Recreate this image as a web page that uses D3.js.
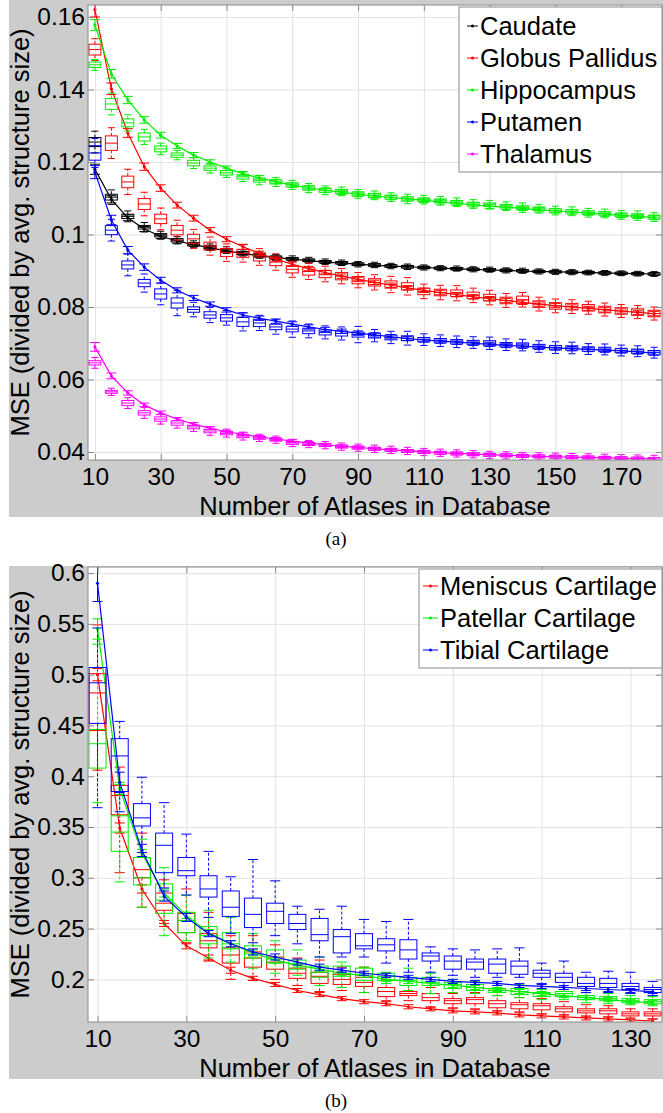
<!DOCTYPE html>
<html>
<head>
<meta charset="utf-8">
<script src="https://cdn.jsdelivr.net/npm/d3@7"></script>
<style>
  body { margin: 0; background: #fff; }
  svg text { font-family: "Liberation Sans", Arial, Helvetica, sans-serif; }
</style>
</head>
<body>
<svg id="fig" width="663" height="1113"></svg>
<script>
// ---- panel (a): atlas counts and per-structure values
var atlasA = [10,15,20,25,30,35,40,45,50,55,60,65,70,75,80,85,90,95,100,105,110,115,120,125,130,135,140,145,150,155,160,165,170,175,180];

var caudateFit = [0.1180,0.1097,0.1046,0.1015,0.0995,0.0982,0.0972,0.0963,0.0955,0.0948,0.0941,0.0936,0.0932,0.0928,0.0924,0.0921,0.0918,0.0915,0.0913,0.0911,0.0909,0.0907,0.0905,0.0904,0.0902,0.0901,0.0899,0.0898,0.0897,0.0896,0.0895,0.0894,0.0893,0.0892,0.0891];
var caudateErr = [0.0014,0.0010,0.0008,0.0007,0.0006,0.0006,0.0005,0.0005,0.0005,0.0005,0.0005,0.0005,0.0004,0.0004,0.0004,0.0004,0.0004,0.0004,0.0004,0.0004,0.0004,0.0004,0.0004,0.0004,0.0004,0.0004,0.0004,0.0004,0.0004,0.0004,0.0004,0.0004,0.0004,0.0004,0.0004];
var caudateMed = [0.1255,0.1103,0.1050,0.1020,0.0998,0.0984,0.0973,0.0965,0.0957,0.0949,0.0943,0.0937,0.0933,0.0929,0.0925,0.0922,0.0918,0.0916,0.0913,0.0911,0.0909,0.0907,0.0906,0.0904,0.0903,0.0901,0.0900,0.0898,0.0897,0.0896,0.0895,0.0894,0.0893,0.0892,0.0891];
var caudateIqr = [0.0025,0.0016,0.0012,0.0010,0.0009,0.0009,0.0008,0.0008,0.0008,0.0008,0.0008,0.0007,0.0007,0.0007,0.0007,0.0007,0.0007,0.0007,0.0007,0.0007,0.0006,0.0006,0.0006,0.0006,0.0006,0.0006,0.0006,0.0006,0.0006,0.0006,0.0006,0.0006,0.0006,0.0006,0.0006];
var caudateWsk = [0.0060,0.0040,0.0030,0.0026,0.0022,0.0020,0.0019,0.0018,0.0018,0.0017,0.0017,0.0016,0.0016,0.0016,0.0015,0.0015,0.0015,0.0015,0.0015,0.0015,0.0014,0.0014,0.0014,0.0014,0.0014,0.0014,0.0014,0.0014,0.0014,0.0014,0.0013,0.0013,0.0013,0.0013,0.0013];

var pallidusFit = [0.1620,0.1402,0.1280,0.1187,0.1128,0.1081,0.1045,0.1012,0.0987,0.0966,0.0948,0.0932,0.0918,0.0906,0.0895,0.0885,0.0876,0.0868,0.0860,0.0853,0.0846,0.0840,0.0834,0.0828,0.0823,0.0818,0.0813,0.0808,0.0804,0.0800,0.0796,0.0792,0.0789,0.0785,0.0782];
var pallidusErr = [0.0020,0.0016,0.0012,0.0010,0.0009,0.0008,0.0008,0.0007,0.0007,0.0007,0.0006,0.0006,0.0006,0.0006,0.0006,0.0006,0.0006,0.0006,0.0006,0.0006,0.0006,0.0006,0.0006,0.0006,0.0006,0.0006,0.0006,0.0006,0.0006,0.0006,0.0006,0.0006,0.0006,0.0006,0.0006];
var pallidusMed = [0.1510,0.1252,0.1145,0.1084,0.1043,0.1012,0.0988,0.0968,0.0950,0.0948,0.0938,0.0924,0.0904,0.0898,0.0891,0.0885,0.0874,0.0868,0.0862,0.0857,0.0843,0.0840,0.0838,0.0832,0.0826,0.0818,0.0820,0.0808,0.0803,0.0801,0.0798,0.0793,0.0789,0.0786,0.0782];
var pallidusIqr = [0.0030,0.0040,0.0032,0.0030,0.0026,0.0026,0.0025,0.0022,0.0022,0.0022,0.0022,0.0020,0.0020,0.0020,0.0020,0.0020,0.0020,0.0020,0.0020,0.0020,0.0018,0.0018,0.0018,0.0018,0.0018,0.0018,0.0020,0.0018,0.0018,0.0018,0.0018,0.0018,0.0018,0.0018,0.0018];
var pallidusWsk = [0.0060,0.0085,0.0070,0.0065,0.0060,0.0055,0.0052,0.0050,0.0048,0.0048,0.0046,0.0045,0.0044,0.0044,0.0043,0.0042,0.0042,0.0042,0.0045,0.0048,0.0040,0.0040,0.0042,0.0040,0.0040,0.0038,0.0040,0.0038,0.0038,0.0038,0.0036,0.0036,0.0036,0.0036,0.0036];

var hippoFit = [0.1578,0.1443,0.1371,0.1316,0.1274,0.1244,0.1219,0.1200,0.1183,0.1168,0.1156,0.1146,0.1136,0.1129,0.1122,0.1116,0.1111,0.1106,0.1102,0.1098,0.1094,0.1090,0.1086,0.1082,0.1078,0.1075,0.1072,0.1068,0.1065,0.1062,0.1059,0.1056,0.1053,0.1050,0.1047];
var hippoErr = [0.0015,0.0012,0.0010,0.0009,0.0008,0.0007,0.0007,0.0006,0.0006,0.0006,0.0006,0.0006,0.0006,0.0006,0.0006,0.0006,0.0006,0.0006,0.0006,0.0006,0.0006,0.0006,0.0006,0.0006,0.0006,0.0006,0.0006,0.0006,0.0006,0.0006,0.0006,0.0006,0.0006,0.0006,0.0006];
var hippoMed = [0.1468,0.1360,0.1308,0.1269,0.1236,0.1219,0.1197,0.1183,0.1170,0.1159,0.1150,0.1145,0.1137,0.1128,0.1122,0.1119,0.1112,0.1108,0.1103,0.1098,0.1096,0.1093,0.1089,0.1084,0.1082,0.1078,0.1074,0.1071,0.1066,0.1064,0.1060,0.1058,0.1054,0.1052,0.1048];
var hippoIqr = [0.0015,0.0030,0.0022,0.0022,0.0016,0.0012,0.0015,0.0012,0.0012,0.0012,0.0011,0.0011,0.0011,0.0011,0.0011,0.0011,0.0011,0.0011,0.0011,0.0011,0.0010,0.0010,0.0010,0.0010,0.0010,0.0010,0.0010,0.0010,0.0010,0.0010,0.0010,0.0010,0.0010,0.0010,0.0010];
var hippoWsk = [0.0030,0.0060,0.0045,0.0042,0.0032,0.0026,0.0030,0.0027,0.0026,0.0026,0.0026,0.0025,0.0025,0.0025,0.0024,0.0024,0.0024,0.0024,0.0024,0.0026,0.0024,0.0024,0.0024,0.0024,0.0024,0.0024,0.0026,0.0024,0.0024,0.0024,0.0024,0.0024,0.0024,0.0026,0.0024];

var putamenFit = [0.1172,0.1040,0.0957,0.0910,0.0874,0.0846,0.0825,0.0808,0.0792,0.0778,0.0769,0.0761,0.0753,0.0745,0.0738,0.0733,0.0728,0.0723,0.0718,0.0713,0.0709,0.0706,0.0703,0.0700,0.0697,0.0694,0.0692,0.0689,0.0687,0.0685,0.0683,0.0681,0.0679,0.0676,0.0673];
var putamenErr = [0.0018,0.0013,0.0010,0.0009,0.0008,0.0007,0.0007,0.0006,0.0006,0.0006,0.0006,0.0006,0.0006,0.0006,0.0006,0.0006,0.0006,0.0006,0.0006,0.0006,0.0006,0.0006,0.0006,0.0006,0.0006,0.0006,0.0006,0.0006,0.0006,0.0006,0.0006,0.0006,0.0006,0.0006,0.0006];
var putamenMed = [0.1225,0.1012,0.0916,0.0866,0.0836,0.0811,0.0793,0.0778,0.0770,0.0759,0.0756,0.0745,0.0739,0.0734,0.0730,0.0727,0.0724,0.0721,0.0716,0.0714,0.0710,0.0707,0.0704,0.0702,0.0700,0.0696,0.0695,0.0691,0.0688,0.0687,0.0684,0.0683,0.0680,0.0678,0.0674];
var putamenIqr = [0.0040,0.0025,0.0022,0.0020,0.0028,0.0028,0.0015,0.0018,0.0018,0.0025,0.0020,0.0015,0.0015,0.0015,0.0014,0.0014,0.0014,0.0013,0.0013,0.0013,0.0012,0.0012,0.0012,0.0012,0.0014,0.0012,0.0012,0.0012,0.0012,0.0012,0.0012,0.0012,0.0012,0.0012,0.0012];
var putamenWsk = [0.0080,0.0060,0.0060,0.0050,0.0060,0.0070,0.0040,0.0042,0.0040,0.0050,0.0042,0.0040,0.0045,0.0038,0.0036,0.0036,0.0045,0.0034,0.0034,0.0038,0.0032,0.0032,0.0032,0.0032,0.0034,0.0032,0.0032,0.0032,0.0032,0.0032,0.0030,0.0030,0.0030,0.0030,0.0030];

var thalamusFit = [0.0690,0.0610,0.0563,0.0530,0.0508,0.0491,0.0477,0.0466,0.0456,0.0449,0.0442,0.0436,0.0430,0.0425,0.0420,0.0416,0.0413,0.0409,0.0406,0.0403,0.0401,0.0398,0.0396,0.0394,0.0393,0.0391,0.0390,0.0388,0.0387,0.0386,0.0385,0.0384,0.0383,0.0382,0.0381];
var thalamusErr = [0.0012,0.0008,0.0006,0.0005,0.0005,0.0004,0.0004,0.0004,0.0004,0.0004,0.0004,0.0004,0.0004,0.0004,0.0004,0.0004,0.0004,0.0004,0.0004,0.0004,0.0004,0.0004,0.0004,0.0004,0.0004,0.0004,0.0004,0.0004,0.0004,0.0004,0.0004,0.0004,0.0004,0.0004,0.0004];
var thalamusMed = [0.0646,0.0566,0.0535,0.0508,0.0491,0.0480,0.0469,0.0458,0.0452,0.0444,0.0439,0.0434,0.0425,0.0422,0.0419,0.0415,0.0412,0.0409,0.0406,0.0403,0.0400,0.0398,0.0396,0.0394,0.0392,0.0391,0.0389,0.0388,0.0387,0.0386,0.0385,0.0384,0.0383,0.0382,0.0381];
var thalamusIqr = [0.0012,0.0008,0.0014,0.0012,0.0012,0.0012,0.0010,0.0010,0.0009,0.0009,0.0008,0.0008,0.0008,0.0008,0.0008,0.0008,0.0008,0.0008,0.0008,0.0008,0.0008,0.0008,0.0008,0.0008,0.0008,0.0008,0.0008,0.0008,0.0008,0.0008,0.0008,0.0008,0.0008,0.0008,0.0008];
var thalamusWsk = [0.0030,0.0020,0.0030,0.0030,0.0028,0.0028,0.0025,0.0024,0.0022,0.0022,0.0020,0.0020,0.0020,0.0020,0.0020,0.0020,0.0020,0.0020,0.0020,0.0020,0.0020,0.0020,0.0020,0.0020,0.0020,0.0020,0.0020,0.0020,0.0020,0.0020,0.0020,0.0020,0.0020,0.0020,0.0020];

// ---- panel (b): knee cartilage
var atlasB = [10,15,20,25,30,35,40,45,50,55,60,65,70,75,80,85,90,95,100,105,110,115,120,125,130,135];

var meniscusFit = [0.500,0.349,0.289,0.255,0.233,0.221,0.209,0.201,0.195,0.189,0.185,0.181,0.178,0.176,0.173,0.171,0.169,0.168,0.167,0.165,0.164,0.163,0.162,0.161,0.160,0.159];
var meniscusErr = [0.006,0.005,0.004,0.003,0.003,0.003,0.003,0.002,0.002,0.002,0.002,0.002,0.002,0.002,0.002,0.002,0.002,0.002,0.002,0.002,0.002,0.002,0.002,0.002,0.002,0.002];
var meniscusQ3  = [0.501,0.391,0.320,0.285,0.265,0.245,0.231,0.227,0.222,0.211,0.207,0.205,0.202,0.192,0.188,0.186,0.181,0.182,0.179,0.177,0.176,0.173,0.171,0.171,0.168,0.168];
var meniscusMed = [0.482,0.381,0.308,0.275,0.258,0.238,0.224,0.221,0.217,0.206,0.203,0.200,0.197,0.188,0.186,0.182,0.179,0.180,0.176,0.175,0.174,0.171,0.169,0.169,0.166,0.166];
var meniscusQ1  = [0.445,0.362,0.300,0.268,0.246,0.231,0.216,0.212,0.210,0.201,0.196,0.195,0.193,0.183,0.184,0.179,0.176,0.176,0.172,0.171,0.170,0.168,0.167,0.166,0.164,0.164];
var meniscusHi  = [0.549,0.409,0.344,0.298,0.289,0.266,0.243,0.243,0.234,0.221,0.219,0.212,0.212,0.200,0.194,0.192,0.186,0.187,0.184,0.182,0.181,0.178,0.175,0.174,0.171,0.171];
var meniscusLo  = [0.406,0.305,0.271,0.255,0.235,0.219,0.200,0.199,0.200,0.194,0.188,0.189,0.187,0.179,0.179,0.172,0.172,0.171,0.169,0.168,0.166,0.165,0.163,0.163,0.161,0.161];

var patellarFit = [0.545,0.388,0.324,0.285,0.263,0.246,0.235,0.226,0.219,0.214,0.210,0.206,0.204,0.200,0.198,0.196,0.194,0.192,0.190,0.188,0.186,0.184,0.182,0.180,0.178,0.177];
var patellarErr = [0.010,0.006,0.004,0.004,0.003,0.003,0.003,0.003,0.003,0.002,0.002,0.002,0.002,0.002,0.002,0.002,0.002,0.002,0.002,0.002,0.002,0.002,0.002,0.002,0.002,0.002];
var patellarQ3  = [0.446,0.361,0.320,0.294,0.266,0.252,0.246,0.233,0.229,0.219,0.213,0.213,0.211,0.206,0.202,0.202,0.197,0.195,0.191,0.191,0.187,0.188,0.184,0.183,0.181,0.180];
var patellarMed = [0.432,0.345,0.300,0.278,0.258,0.243,0.235,0.225,0.220,0.215,0.207,0.206,0.204,0.203,0.199,0.197,0.195,0.192,0.189,0.188,0.186,0.186,0.182,0.181,0.179,0.178];
var patellarQ1  = [0.408,0.326,0.293,0.265,0.246,0.235,0.230,0.221,0.216,0.210,0.202,0.203,0.199,0.199,0.194,0.194,0.191,0.189,0.187,0.185,0.183,0.183,0.180,0.179,0.177,0.176];
var patellarHi  = [0.530,0.392,0.338,0.310,0.283,0.268,0.261,0.245,0.238,0.229,0.222,0.217,0.212,0.207,0.211,0.206,0.200,0.198,0.194,0.195,0.190,0.192,0.187,0.186,0.184,0.183];
var patellarLo  = [0.374,0.296,0.271,0.243,0.238,0.221,0.217,0.211,0.206,0.204,0.194,0.192,0.187,0.196,0.189,0.186,0.187,0.186,0.184,0.182,0.180,0.180,0.177,0.176,0.175,0.174];

var tibialFit = [0.590,0.394,0.327,0.282,0.261,0.245,0.235,0.227,0.222,0.217,0.212,0.209,0.206,0.204,0.202,0.200,0.198,0.197,0.196,0.194,0.193,0.192,0.191,0.190,0.189,0.188];
var tibialErr = [0.018,0.010,0.006,0.005,0.004,0.003,0.003,0.003,0.003,0.003,0.003,0.002,0.002,0.002,0.002,0.002,0.002,0.002,0.002,0.002,0.002,0.002,0.002,0.002,0.002,0.002];
var tibialQ3  = [0.507,0.437,0.373,0.344,0.320,0.302,0.287,0.280,0.275,0.264,0.260,0.249,0.245,0.240,0.239,0.226,0.223,0.220,0.220,0.218,0.209,0.206,0.202,0.201,0.196,0.192];
var tibialMed = [0.492,0.420,0.359,0.332,0.307,0.289,0.271,0.264,0.267,0.255,0.244,0.242,0.233,0.234,0.229,0.223,0.218,0.217,0.215,0.213,0.206,0.202,0.196,0.196,0.193,0.190];
var tibialQ1  = [0.452,0.385,0.351,0.305,0.302,0.281,0.262,0.251,0.255,0.249,0.238,0.226,0.230,0.228,0.220,0.218,0.210,0.210,0.206,0.205,0.202,0.197,0.193,0.192,0.190,0.187];
var tibialHi  = [0.546,0.454,0.399,0.374,0.343,0.326,0.301,0.318,0.297,0.272,0.269,0.272,0.259,0.257,0.259,0.232,0.230,0.229,0.230,0.231,0.216,0.218,0.207,0.208,0.207,0.198];
var tibialLo  = [0.369,0.365,0.325,0.290,0.283,0.261,0.245,0.236,0.243,0.235,0.222,0.222,0.222,0.216,0.207,0.207,0.204,0.202,0.202,0.202,0.196,0.192,0.187,0.187,0.186,0.184];

// tick labels
var xTicksA = [10,30,50,70,90,110,130,150,170];
var yTicksA = [0.04,0.06,0.08,0.1,0.12,0.14,0.16];
var xTicksB = [10,30,50,70,90,110,130];
var yTicksB = [0.2,0.25,0.3,0.35,0.4,0.45,0.5,0.55,0.6];

// build series objects (panel a boxes are small, stored as median + spreads)
function seriesA(name, color, fit, err, med, iqr, wsk){
  return {
    name: name, color: color,
    fit: atlasA.map(function(v,i){ return {x: v, v: fit[i], e: err[i]}; }),
    boxes: atlasA.map(function(v,i){
      return {x: v, med: med[i], q1: med[i]-iqr[i]/2, q3: med[i]+iqr[i]/2, lo: med[i]-wsk[i]/2, hi: med[i]+wsk[i]/2};
    })
  };
}
function seriesB(name, color, fit, err, q1, med, q3, lo, hi){
  return {
    name: name, color: color,
    fit: atlasB.map(function(v,i){ return {x: v, v: fit[i], e: err[i]}; }),
    boxes: atlasB.map(function(v,i){
      return {x: v, med: med[i], q1: q1[i], q3: q3[i], lo: lo[i], hi: hi[i]};
    })
  };
}

var panelA = [
  seriesA("Caudate", "#000000", caudateFit, caudateErr, caudateMed, caudateIqr, caudateWsk),
  seriesA("Globus Pallidus", "#ff0000", pallidusFit, pallidusErr, pallidusMed, pallidusIqr, pallidusWsk),
  seriesA("Hippocampus", "#00ee00", hippoFit, hippoErr, hippoMed, hippoIqr, hippoWsk),
  seriesA("Putamen", "#0000ff", putamenFit, putamenErr, putamenMed, putamenIqr, putamenWsk),
  seriesA("Thalamus", "#ff00ff", thalamusFit, thalamusErr, thalamusMed, thalamusIqr, thalamusWsk)
];
var panelB = [
  seriesB("Meniscus Cartilage", "#ff0000", meniscusFit, meniscusErr, meniscusQ1, meniscusMed, meniscusQ3, meniscusLo, meniscusHi),
  seriesB("Patellar Cartilage", "#00ee00", patellarFit, patellarErr, patellarQ1, patellarMed, patellarQ3, patellarLo, patellarHi),
  seriesB("Tibial Cartilage", "#0000ff", tibialFit, tibialErr, tibialQ1, tibialMed, tibialQ3, tibialLo, tibialHi)
];

function BoxFitChart(){
  var bgTop = 0, bgBottom = 515
    , plot = {l: 88, r: 662, t: 5, b: 460}
    , xDomain = [0, 1], yDomain = [0, 1]
    , xTicks = [], yTicks = []
    , boxWidth = 12, capWidth = 10
    , legend = {x: 459, y: 7, w: 203, h: 165, lx: 467, tx: 480, base: 35}
    , caption = "(a)", captionY = 545
    , fs = 25.5, tickFs = 24.5;

  function chart(selection){
    selection.each(function(series){
      var g = d3.select(this);
      var x = d3.scaleLinear().domain(xDomain).range([plot.l, plot.r]);
      var y = d3.scaleLinear().domain(yDomain).range([plot.b, plot.t]);
      var pw = plot.r - plot.l, ph = plot.b - plot.t;

      // gray figure background and white axes area
      g.append("rect").attr("x", 9).attr("y", bgTop).attr("width", 663 - 9).attr("height", bgBottom - bgTop).attr("fill", "#cccccc");
      g.append("rect").attr("x", plot.l).attr("y", plot.t).attr("width", pw).attr("height", ph).attr("fill", "#ffffff");

      // grid lines
      g.append("g").attr("transform", "translate(0," + plot.b + ")")
        .call(d3.axisBottom(x).tickValues(xTicks).tickSize(-ph).tickFormat(""))
        .call(function(s){ s.select(".domain").remove(); s.selectAll("line").attr("stroke", "#e2e2e2"); });
      g.append("g").attr("transform", "translate(" + plot.l + ",0)")
        .call(d3.axisLeft(y).tickValues(yTicks).tickSize(-pw).tickFormat(""))
        .call(function(s){ s.select(".domain").remove(); s.selectAll("line").attr("stroke", "#e2e2e2"); });

      var clipId = "clip" + caption.replace(/\W/g, "");
      g.append("clipPath").attr("id", clipId).append("rect")
        .attr("x", plot.l).attr("y", plot.t).attr("width", pw).attr("height", ph);
      var dataG = g.append("g").attr("clip-path", "url(#" + clipId + ")");

      series.forEach(function(s){
        var sg = dataG.append("g").attr("stroke", s.color).attr("fill", "none").attr("stroke-width", 1);

        // box plots
        var bx = sg.selectAll("g.box").data(s.boxes).enter().append("g").attr("class", "box");
        bx.append("line").attr("x1", function(d){ return x(d.x); }).attr("x2", function(d){ return x(d.x); })
          .attr("y1", function(d){ return y(d.q3); }).attr("y2", function(d){ return y(d.hi); })
          .attr("stroke-dasharray", "3,2");
        bx.append("line").attr("x1", function(d){ return x(d.x); }).attr("x2", function(d){ return x(d.x); })
          .attr("y1", function(d){ return y(d.q1); }).attr("y2", function(d){ return y(d.lo); })
          .attr("stroke-dasharray", "3,2");
        ["hi", "lo"].forEach(function(k){
          bx.append("line")
            .attr("x1", function(d){ return x(d.x) - boxWidth * 0.3; })
            .attr("x2", function(d){ return x(d.x) + boxWidth * 0.3; })
            .attr("y1", function(d){ return y(d[k]); }).attr("y2", function(d){ return y(d[k]); });
        });
        bx.append("rect")
          .attr("x", function(d){ return x(d.x) - boxWidth / 2; })
          .attr("y", function(d){ return y(d.q3); })
          .attr("width", boxWidth)
          .attr("height", function(d){ return Math.max(1, y(d.q1) - y(d.q3)); });
        bx.append("line")
          .attr("x1", function(d){ return x(d.x) - boxWidth / 2; })
          .attr("x2", function(d){ return x(d.x) + boxWidth / 2; })
          .attr("y1", function(d){ return y(d.med); }).attr("y2", function(d){ return y(d.med); });

        // fitted curve with error bars
        sg.append("path").datum(s.fit)
          .attr("stroke-width", 1.2)
          .attr("d", d3.line().x(function(d){ return x(d.x); }).y(function(d){ return y(d.v); }));
        var eb = sg.selectAll("g.err").data(s.fit).enter().append("g").attr("class", "err");
        eb.append("line").attr("x1", function(d){ return x(d.x); }).attr("x2", function(d){ return x(d.x); })
          .attr("y1", function(d){ return y(d.v + d.e); }).attr("y2", function(d){ return y(d.v - d.e); });
        [1, -1].forEach(function(sign){
          eb.append("line")
            .attr("x1", function(d){ return x(d.x) - capWidth / 2; })
            .attr("x2", function(d){ return x(d.x) + capWidth / 2; })
            .attr("y1", function(d){ return y(d.v + sign * d.e); })
            .attr("y2", function(d){ return y(d.v + sign * d.e); });
        });
        eb.append("circle").attr("cx", function(d){ return x(d.x); }).attr("cy", function(d){ return y(d.v); })
          .attr("r", 1.6).attr("fill", s.color).attr("stroke", "none");
      });

      // axes frame and inward ticks on all four sides
      g.append("rect").attr("x", plot.l).attr("y", plot.t).attr("width", pw).attr("height", ph)
        .attr("fill", "none").attr("stroke", "#8a8a8a");
      var tick = function(s){ s.select(".domain").remove(); s.selectAll("line").attr("stroke", "#8a8a8a"); };
      g.append("g").attr("transform", "translate(0," + plot.t + ")")
        .call(d3.axisTop(x).tickValues(xTicks).tickSize(-6).tickFormat("")).call(tick);
      g.append("g").attr("transform", "translate(" + plot.r + ",0)")
        .call(d3.axisRight(y).tickValues(yTicks).tickSize(-6).tickFormat("")).call(tick);

      var xAxis = g.append("g").attr("transform", "translate(0," + plot.b + ")")
        .call(d3.axisBottom(x).tickValues(xTicks).tickSize(-6).tickPadding(8).tickFormat(d3.format("d")))
        .call(tick);
      xAxis.selectAll("text").attr("font-size", tickFs).attr("fill", "#000")
        .attr("font-family", "'Liberation Sans', Arial, sans-serif");

      var yAxis = g.append("g").attr("transform", "translate(" + plot.l + ",0)")
        .call(d3.axisLeft(y).tickValues(yTicks).tickSize(-6).tickPadding(3)
          .tickFormat(function(d){ return String(+d.toFixed(3)); }))
        .call(tick);
      yAxis.selectAll("text").attr("font-size", tickFs).attr("fill", "#000")
        .attr("font-family", "'Liberation Sans', Arial, sans-serif");

      // axis titles
      g.append("text").attr("x", (plot.l + plot.r) / 2).attr("y", plot.b + 55)
        .attr("text-anchor", "middle").attr("font-size", fs)
        .text("Number of Atlases in Database");
      g.append("text")
        .attr("transform", "translate(29," + ((plot.t + plot.b) / 2) + ") rotate(-90)")
        .attr("text-anchor", "middle").attr("font-size", fs)
        .text("MSE (divided by avg. structure size)");

      // legend
      var lg = g.append("g");
      lg.append("rect").attr("x", legend.x).attr("y", legend.y).attr("width", legend.w).attr("height", legend.h)
        .attr("fill", "#fff").attr("stroke", "#8a8a8a");
      var item = lg.selectAll("g.item").data(series).enter().append("g")
        .attr("transform", function(d, i){ return "translate(0," + (legend.base + i * 32) + ")"; });
      item.append("line").attr("x1", legend.lx).attr("x2", legend.tx - 2)
        .attr("y1", -9).attr("y2", -9).attr("stroke", function(d){ return d.color; });
      item.append("circle").attr("cx", (legend.lx + legend.tx - 2) / 2).attr("cy", -9).attr("r", 1.5)
        .attr("fill", function(d){ return d.color; });
      item.append("text").attr("x", legend.tx).attr("y", 0).attr("font-size", fs)
        .text(function(d){ return d.name; });

      // caption below the figure
      g.append("text").attr("x", 336).attr("y", captionY).attr("text-anchor", "middle")
        .attr("font-size", 19).style("font-family", "'Liberation Serif', 'Times New Roman', serif")
        .text(caption);
    });
  }

  chart.bg = function(t, b){ bgTop = t; bgBottom = b; return chart; };
  chart.plot = function(p){ if (!arguments.length) { return plot; } plot = p; return chart; };
  chart.xDomain = function(d){ xDomain = d; return chart; };
  chart.yDomain = function(d){ yDomain = d; return chart; };
  chart.xTicks = function(t){ xTicks = t; return chart; };
  chart.yTicks = function(t){ yTicks = t; return chart; };
  chart.boxWidth = function(w){ boxWidth = w; return chart; };
  chart.capWidth = function(w){ capWidth = w; return chart; };
  chart.legend = function(l){ legend = l; return chart; };
  chart.caption = function(c, cy){ caption = c; captionY = cy; return chart; };

  return chart;
}

var svg = d3.select("#fig");

var chartA = BoxFitChart()
  .bg(0, 517)
  .plot({l: 88, r: 662, t: 5, b: 460})
  .xDomain([7.9, 182.4]).yDomain([0.0378, 0.1633])
  .xTicks(xTicksA).yTicks(yTicksA)
  .boxWidth(12).capWidth(10)
  .legend({x: 459, y: 7, w: 203, h: 165, lx: 467, tx: 480, base: 35})
  .caption("(a)", 545);
svg.append("g").datum(panelA).call(chartA);

var chartB = BoxFitChart()
  .bg(566, 1079)
  .plot({l: 88, r: 662, t: 567, b: 1022})
  .xDomain([7.86, 137.1]).yDomain([0.158, 0.606])
  .xTicks(xTicksB).yTicks(yTicksB)
  .boxWidth(17).capWidth(10)
  .legend({x: 419, y: 569, w: 243, h: 99, lx: 423, tx: 440, base: 595})
  .caption("(b)", 1107);
svg.append("g").datum(panelB).call(chartB);
</script>
</body>
</html>
